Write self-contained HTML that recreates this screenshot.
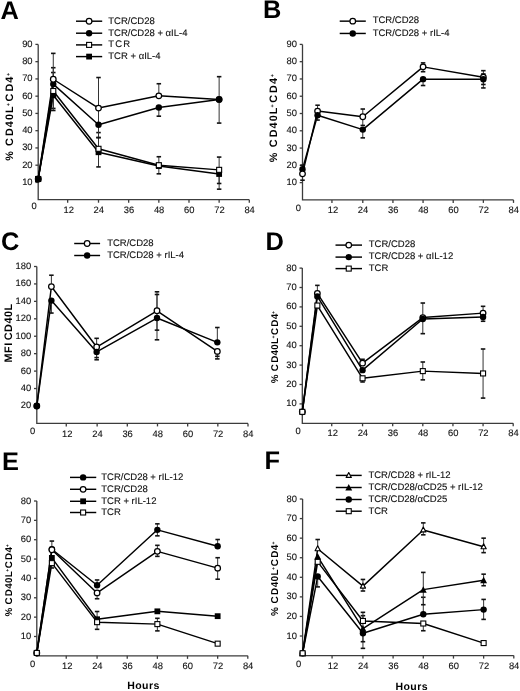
<!DOCTYPE html>
<html><head><meta charset="utf-8"><title>Figure</title>
<style>
html,body{margin:0;padding:0;background:#fff;}
body{width:520px;height:691px;overflow:hidden;}
svg{display:block;will-change:transform;text-rendering:geometricPrecision;font-family:"Liberation Sans", sans-serif;}
</style></head><body>
<svg width="520" height="691" viewBox="0 0 520 691">
<rect width="520" height="691" fill="#fff"/>
<g stroke="#3c3c3c" stroke-width="1.3" fill="none">
<path d="M38.2 44.4V199.7H249.3"/>
<path d="M35.4 182.44H38.2"/>
<path d="M35.4 165.19H38.2"/>
<path d="M35.4 147.93H38.2"/>
<path d="M35.4 130.68H38.2"/>
<path d="M35.4 113.42H38.2"/>
<path d="M35.4 96.17H38.2"/>
<path d="M35.4 78.91H38.2"/>
<path d="M35.4 61.66H38.2"/>
<path d="M35.4 44.4H38.2"/>
<path d="M67.66 199.7V202.7"/>
<path d="M98.51 199.7V202.7"/>
<path d="M128.67 199.7V202.7"/>
<path d="M158.83 199.7V202.7"/>
<path d="M188.99 199.7V202.7"/>
<path d="M219.14 199.7V202.7"/>
<path d="M249.3 199.7V202.7"/>
</g>
<g font-size="9.4" fill="#111" stroke="#111" stroke-width="0.12">
<text x="32.6" y="184.94" text-anchor="end">10</text>
<text x="32.6" y="167.69" text-anchor="end">20</text>
<text x="32.6" y="150.43" text-anchor="end">30</text>
<text x="32.6" y="133.18" text-anchor="end">40</text>
<text x="32.6" y="115.92" text-anchor="end">50</text>
<text x="32.6" y="98.67" text-anchor="end">60</text>
<text x="32.6" y="81.41" text-anchor="end">70</text>
<text x="32.6" y="64.16" text-anchor="end">80</text>
<text x="32.6" y="46.9" text-anchor="end">90</text>
<text x="68.66" y="212.8" text-anchor="middle">12</text>
<text x="98.81" y="212.8" text-anchor="middle">24</text>
<text x="128.97" y="212.8" text-anchor="middle">36</text>
<text x="159.13" y="212.8" text-anchor="middle">48</text>
<text x="189.29" y="212.8" text-anchor="middle">60</text>
<text x="219.44" y="212.8" text-anchor="middle">72</text>
<text x="249.6" y="212.8" text-anchor="middle">84</text>
<text x="34.1" y="209" text-anchor="middle">0</text>
</g>
<g stroke="#000" stroke-width="1.45" fill="none" stroke-linejoin="round">
<path d="M38.2 178.99 L53.28 95.3 L98.51 152.25 L158.83 166.05 L219.14 173.99"/>
<path d="M38.2 178.99 L53.28 90.99 L98.51 148.8 L158.83 165.19 L219.14 169.85"/>
<path d="M38.2 178.99 L53.28 84.09 L98.51 124.81 L158.83 107.56 L219.14 99.45"/>
<path d="M38.2 178.99 L53.28 79.26 L98.51 108.07 L158.83 95.82 L219.14 99.45"/>
</g>
<g stroke="#111" stroke-width="1" fill="none">
<path d="M53.28 95.3V108.42" stroke="#333"/>
<path d="M51.03 108.42H55.53" stroke-width="1.6"/>
<path d="M53.28 95.3V110.49" stroke="#333"/>
<path d="M51.03 110.49H55.53" stroke-width="1.6"/>
<path d="M98.51 152.25V166.91" stroke="#333"/>
<path d="M96.26 166.91H100.76" stroke-width="1.6"/>
<path d="M158.83 166.05V173.82" stroke="#333"/>
<path d="M156.58 173.82H161.08" stroke-width="1.6"/>
<path d="M219.14 173.99V189.17" stroke="#333"/>
<path d="M216.89 189.17H221.39" stroke-width="1.6"/>
<path d="M53.28 90.99V72.53" stroke="#333"/>
<path d="M51.03 72.53H55.53" stroke-width="1.6"/>
<path d="M98.51 148.8V137.58" stroke="#333"/>
<path d="M96.26 137.58H100.76" stroke-width="1.6"/>
<path d="M158.83 165.19V156.73" stroke="#333"/>
<path d="M156.58 156.73H161.08" stroke-width="1.6"/>
<path d="M219.14 169.85V157.08" stroke="#333"/>
<path d="M216.89 157.08H221.39" stroke-width="1.6"/>
<path d="M219.14 169.85V183.48" stroke="#333"/>
<path d="M216.89 183.48H221.39" stroke-width="1.6"/>
<path d="M53.28 84.09V67.7" stroke="#333"/>
<path d="M51.03 67.7H55.53" stroke-width="1.6"/>
<path d="M98.51 124.81V132.58" stroke="#333"/>
<path d="M96.26 132.58H100.76" stroke-width="1.6"/>
<path d="M158.83 107.56V116.18" stroke="#333"/>
<path d="M156.58 116.18H161.08" stroke-width="1.6"/>
<path d="M219.14 99.45V123.09" stroke="#333"/>
<path d="M216.89 123.09H221.39" stroke-width="1.6"/>
<path d="M53.28 79.26V53.37" stroke="#333"/>
<path d="M51.03 53.37H55.53" stroke-width="1.6"/>
<path d="M98.51 108.07V77.53" stroke="#333"/>
<path d="M96.26 77.53H100.76" stroke-width="1.6"/>
<path d="M98.51 108.07V137.58" stroke="#333"/>
<path d="M96.26 137.58H100.76" stroke-width="1.6"/>
<path d="M158.83 95.82V83.74" stroke="#333"/>
<path d="M156.58 83.74H161.08" stroke-width="1.6"/>
<path d="M219.14 99.45V76.67" stroke="#333"/>
<path d="M216.89 76.67H221.39" stroke-width="1.6"/>
</g>
<rect x="50.38" y="92.4" width="5.8" height="5.8" fill="#000"/>
<rect x="95.61" y="149.35" width="5.8" height="5.8" fill="#000"/>
<rect x="155.93" y="163.15" width="5.8" height="5.8" fill="#000"/>
<rect x="216.24" y="171.09" width="5.8" height="5.8" fill="#000"/>
<rect x="35.7" y="176.49" width="5" height="5" fill="#fff" stroke="#000" stroke-width="1.1"/>
<rect x="50.78" y="88.49" width="5" height="5" fill="#fff" stroke="#000" stroke-width="1.1"/>
<rect x="96.01" y="146.3" width="5" height="5" fill="#fff" stroke="#000" stroke-width="1.1"/>
<rect x="156.33" y="162.69" width="5" height="5" fill="#fff" stroke="#000" stroke-width="1.1"/>
<rect x="216.64" y="167.35" width="5" height="5" fill="#fff" stroke="#000" stroke-width="1.1"/>
<circle cx="38.2" cy="178.99" r="3.2" fill="#000"/>
<circle cx="53.28" cy="84.09" r="3.2" fill="#000"/>
<circle cx="98.51" cy="124.81" r="3.2" fill="#000"/>
<circle cx="158.83" cy="107.56" r="3.2" fill="#000"/>
<circle cx="38.2" cy="178.99" r="2.8" fill="#fff" stroke="#000" stroke-width="1.25"/>
<circle cx="53.28" cy="79.26" r="2.8" fill="#fff" stroke="#000" stroke-width="1.25"/>
<circle cx="98.51" cy="108.07" r="2.8" fill="#fff" stroke="#000" stroke-width="1.25"/>
<circle cx="158.83" cy="95.82" r="2.8" fill="#fff" stroke="#000" stroke-width="1.25"/>
<circle cx="219.14" cy="99.45" r="2.8" fill="#fff" stroke="#000" stroke-width="1.25"/>
<circle cx="219.14" cy="99.45" r="3.2" fill="#000"/>
<rect x="35.3" y="176.09" width="5.8" height="5.8" fill="#000"/>
<g font-size="9.5" fill="#111">
<path d="M76 21.2H102.2" stroke="#000" stroke-width="1.45"/>
<circle cx="89.1" cy="21.2" r="2.8" fill="#fff" stroke="#000" stroke-width="1.25"/>
<text x="108.3" y="23.5" stroke="#111" stroke-width="0.12">TCR/CD28</text>
<path d="M76 33.2H102.2" stroke="#000" stroke-width="1.45"/>
<circle cx="89.1" cy="33.2" r="3.2" fill="#000"/>
<text x="108.3" y="35.5" stroke="#111" stroke-width="0.12">TCR/CD28 + &#945;IL-4</text>
<path d="M76 44.9H102.2" stroke="#000" stroke-width="1.45"/>
<rect x="86.6" y="42.4" width="5" height="5" fill="#fff" stroke="#000" stroke-width="1.1"/>
<text x="108.3" y="47.2" stroke="#111" stroke-width="0.12"><tspan letter-spacing="1.2">TCR</tspan></text>
<path d="M76 56.6H102.2" stroke="#000" stroke-width="1.45"/>
<rect x="86.2" y="53.7" width="5.8" height="5.8" fill="#000"/>
<text x="108.3" y="58.9" stroke="#111" stroke-width="0.12">TCR + &#945;IL-4</text>
</g>
<g stroke="#3c3c3c" stroke-width="1.3" fill="none">
<path d="M302.5 44.4V199.9H513.5"/>
<path d="M299.7 182.62H302.5"/>
<path d="M299.7 165.34H302.5"/>
<path d="M299.7 148.07H302.5"/>
<path d="M299.7 130.79H302.5"/>
<path d="M299.7 113.51H302.5"/>
<path d="M299.7 96.23H302.5"/>
<path d="M299.7 78.96H302.5"/>
<path d="M299.7 61.68H302.5"/>
<path d="M299.7 44.4H302.5"/>
<path d="M331.94 199.9V202.9"/>
<path d="M362.79 199.9V202.9"/>
<path d="M392.93 199.9V202.9"/>
<path d="M423.07 199.9V202.9"/>
<path d="M453.21 199.9V202.9"/>
<path d="M483.36 199.9V202.9"/>
<path d="M513.5 199.9V202.9"/>
</g>
<g font-size="9.4" fill="#111" stroke="#111" stroke-width="0.12">
<text x="296.9" y="185.12" text-anchor="end">10</text>
<text x="296.9" y="167.84" text-anchor="end">20</text>
<text x="296.9" y="150.57" text-anchor="end">30</text>
<text x="296.9" y="133.29" text-anchor="end">40</text>
<text x="296.9" y="116.01" text-anchor="end">50</text>
<text x="296.9" y="98.73" text-anchor="end">60</text>
<text x="296.9" y="81.46" text-anchor="end">70</text>
<text x="296.9" y="64.18" text-anchor="end">80</text>
<text x="296.9" y="46.9" text-anchor="end">90</text>
<text x="332.94" y="213" text-anchor="middle">12</text>
<text x="363.09" y="213" text-anchor="middle">24</text>
<text x="393.23" y="213" text-anchor="middle">36</text>
<text x="423.37" y="213" text-anchor="middle">48</text>
<text x="453.51" y="213" text-anchor="middle">60</text>
<text x="483.66" y="213" text-anchor="middle">72</text>
<text x="513.8" y="213" text-anchor="middle">84</text>
<text x="298.4" y="211" text-anchor="middle">0</text>
</g>
<g stroke="#000" stroke-width="1.45" fill="none" stroke-linejoin="round">
<path d="M302.5 173.81 L317.57 111.09 L362.79 116.79 L423.07 66.86 L483.36 77.23"/>
<path d="M302.5 169.15 L317.57 115.24 L362.79 129.58 L423.07 79.13 L483.36 79.3"/>
</g>
<g stroke="#111" stroke-width="1" fill="none">
<path d="M302.5 173.81V180.2" stroke="#333"/>
<path d="M300.25 180.2H304.75" stroke-width="1.6"/>
<path d="M317.57 111.09V105.22" stroke="#333"/>
<path d="M315.32 105.22H319.82" stroke-width="1.6"/>
<path d="M362.79 116.79V109.02" stroke="#333"/>
<path d="M360.54 109.02H365.04" stroke-width="1.6"/>
<path d="M362.79 116.79V125.43" stroke="#333"/>
<path d="M360.54 125.43H365.04" stroke-width="1.6"/>
<path d="M423.07 66.86V62.89" stroke="#333"/>
<path d="M420.82 62.89H425.32" stroke-width="1.6"/>
<path d="M423.07 66.86V71.7" stroke="#333"/>
<path d="M420.82 71.7H425.32" stroke-width="1.6"/>
<path d="M483.36 77.23V70.66" stroke="#333"/>
<path d="M481.11 70.66H485.61" stroke-width="1.6"/>
<path d="M483.36 77.23V73.94" stroke="#333"/>
<path d="M481.11 73.94H485.61" stroke-width="1.6"/>
<path d="M302.5 169.15V165.17" stroke="#333"/>
<path d="M300.25 165.17H304.75" stroke-width="1.6"/>
<path d="M317.57 115.24V120.08" stroke="#333"/>
<path d="M315.32 120.08H319.82" stroke-width="1.6"/>
<path d="M362.79 129.58V137.87" stroke="#333"/>
<path d="M360.54 137.87H365.04" stroke-width="1.6"/>
<path d="M423.07 79.13V85.52" stroke="#333"/>
<path d="M420.82 85.52H425.32" stroke-width="1.6"/>
<path d="M483.36 79.3V87.94" stroke="#333"/>
<path d="M481.11 87.94H485.61" stroke-width="1.6"/>
<path d="M483.36 79.3V84.48" stroke="#333"/>
<path d="M481.11 84.48H485.61" stroke-width="1.6"/>
</g>
<circle cx="317.57" cy="111.09" r="2.8" fill="#fff" stroke="#000" stroke-width="1.25"/>
<circle cx="362.79" cy="116.79" r="2.8" fill="#fff" stroke="#000" stroke-width="1.25"/>
<circle cx="423.07" cy="66.86" r="2.8" fill="#fff" stroke="#000" stroke-width="1.25"/>
<circle cx="483.36" cy="77.23" r="2.8" fill="#fff" stroke="#000" stroke-width="1.25"/>
<circle cx="302.5" cy="169.15" r="3.2" fill="#000"/>
<circle cx="317.57" cy="115.24" r="3.2" fill="#000"/>
<circle cx="362.79" cy="129.58" r="3.2" fill="#000"/>
<circle cx="423.07" cy="79.13" r="3.2" fill="#000"/>
<circle cx="483.36" cy="79.3" r="3.2" fill="#000"/>
<circle cx="302.5" cy="173.81" r="2.8" fill="#fff" stroke="#000" stroke-width="1.25"/>
<g font-size="9.5" fill="#111">
<path d="M339.7 21.15H365.8" stroke="#000" stroke-width="1.45"/>
<circle cx="352.75" cy="21.15" r="2.8" fill="#fff" stroke="#000" stroke-width="1.25"/>
<text x="372.7" y="23.45" stroke="#111" stroke-width="0.12">TCR/CD28</text>
<path d="M339.7 33.45H365.8" stroke="#000" stroke-width="1.45"/>
<circle cx="352.75" cy="33.45" r="3.2" fill="#000"/>
<text x="372.7" y="35.75" stroke="#111" stroke-width="0.12">TCR/CD28 + rIL-4</text>
</g>
<g stroke="#3c3c3c" stroke-width="1.3" fill="none">
<path d="M36.8 266.5V423.4H248"/>
<path d="M34 405.97H36.8"/>
<path d="M34 388.53H36.8"/>
<path d="M34 371.1H36.8"/>
<path d="M34 353.67H36.8"/>
<path d="M34 336.23H36.8"/>
<path d="M34 318.8H36.8"/>
<path d="M34 301.37H36.8"/>
<path d="M34 283.93H36.8"/>
<path d="M34 266.5H36.8"/>
<path d="M66.27 423.4V426.4"/>
<path d="M97.14 423.4V426.4"/>
<path d="M127.31 423.4V426.4"/>
<path d="M157.49 423.4V426.4"/>
<path d="M187.66 423.4V426.4"/>
<path d="M217.83 423.4V426.4"/>
<path d="M248 423.4V426.4"/>
</g>
<g font-size="9.4" fill="#111" stroke="#111" stroke-width="0.12">
<text x="31.2" y="408.47" text-anchor="end">20</text>
<text x="31.2" y="391.03" text-anchor="end">40</text>
<text x="31.2" y="373.6" text-anchor="end">60</text>
<text x="31.2" y="356.17" text-anchor="end">80</text>
<text x="31.2" y="338.73" text-anchor="end">100</text>
<text x="31.2" y="321.3" text-anchor="end">120</text>
<text x="31.2" y="303.87" text-anchor="end">140</text>
<text x="31.2" y="286.43" text-anchor="end">160</text>
<text x="31.2" y="269" text-anchor="end">180</text>
<text x="67.27" y="436.5" text-anchor="middle">12</text>
<text x="97.44" y="436.5" text-anchor="middle">24</text>
<text x="127.61" y="436.5" text-anchor="middle">36</text>
<text x="157.79" y="436.5" text-anchor="middle">48</text>
<text x="187.96" y="436.5" text-anchor="middle">60</text>
<text x="218.13" y="436.5" text-anchor="middle">72</text>
<text x="248.3" y="436.5" text-anchor="middle">84</text>
<text x="32.7" y="434.2" text-anchor="middle">0</text>
</g>
<g stroke="#000" stroke-width="1.45" fill="none" stroke-linejoin="round">
<path d="M36.8 405.97 L51.39 286.55 L96.64 347.04 L156.99 310.78 L217.33 351.4"/>
<path d="M36.8 405.97 L51.39 300.58 L96.64 351.92 L156.99 318.02 L217.33 342.33"/>
</g>
<g stroke="#111" stroke-width="1" fill="none">
<path d="M51.39 286.55V275.22" stroke="#333"/>
<path d="M49.14 275.22H53.64" stroke-width="1.6"/>
<path d="M96.64 347.04V338.33" stroke="#333"/>
<path d="M94.39 338.33H98.89" stroke-width="1.6"/>
<path d="M156.99 310.78V291.78" stroke="#333"/>
<path d="M154.74 291.78H159.24" stroke-width="1.6"/>
<path d="M217.33 351.4V358.9" stroke="#333"/>
<path d="M215.08 358.9H219.58" stroke-width="1.6"/>
<path d="M217.33 351.4V356.28" stroke="#333"/>
<path d="M215.08 356.28H219.58" stroke-width="1.6"/>
<path d="M51.39 300.58V313.05" stroke="#333"/>
<path d="M49.14 313.05H53.64" stroke-width="1.6"/>
<path d="M96.64 351.92V359.77" stroke="#333"/>
<path d="M94.39 359.77H98.89" stroke-width="1.6"/>
<path d="M96.64 351.92V357.59" stroke="#333"/>
<path d="M94.39 357.59H98.89" stroke-width="1.6"/>
<path d="M156.99 318.02V339.81" stroke="#333"/>
<path d="M154.74 339.81H159.24" stroke-width="1.6"/>
<path d="M156.99 318.02V330.13" stroke="#333"/>
<path d="M154.74 330.13H159.24" stroke-width="1.6"/>
<path d="M156.99 318.02V294.48" stroke="#333"/>
<path d="M154.74 294.48H159.24" stroke-width="1.6"/>
<path d="M217.33 342.33V327.52" stroke="#333"/>
<path d="M215.08 327.52H219.58" stroke-width="1.6"/>
</g>
<circle cx="36.8" cy="405.97" r="2.8" fill="#fff" stroke="#000" stroke-width="1.25"/>
<circle cx="51.39" cy="286.55" r="2.8" fill="#fff" stroke="#000" stroke-width="1.25"/>
<circle cx="96.64" cy="347.04" r="2.8" fill="#fff" stroke="#000" stroke-width="1.25"/>
<circle cx="156.99" cy="310.78" r="2.8" fill="#fff" stroke="#000" stroke-width="1.25"/>
<circle cx="217.33" cy="351.4" r="2.8" fill="#fff" stroke="#000" stroke-width="1.25"/>
<circle cx="36.8" cy="405.97" r="3.2" fill="#000"/>
<circle cx="51.39" cy="300.58" r="3.2" fill="#000"/>
<circle cx="96.64" cy="351.92" r="3.2" fill="#000"/>
<circle cx="156.99" cy="318.02" r="3.2" fill="#000"/>
<circle cx="217.33" cy="342.33" r="3.2" fill="#000"/>
<g font-size="9.5" fill="#111">
<path d="M74.2 243.5H100.1" stroke="#000" stroke-width="1.45"/>
<circle cx="87.15" cy="243.5" r="2.8" fill="#fff" stroke="#000" stroke-width="1.25"/>
<text x="107.2" y="245.8" stroke="#111" stroke-width="0.12">TCR/CD28</text>
<path d="M74.2 255.5H100.1" stroke="#000" stroke-width="1.45"/>
<circle cx="87.15" cy="255.5" r="3.2" fill="#000"/>
<text x="107.2" y="257.8" stroke="#111" stroke-width="0.12">TCR/CD28 + rIL-4</text>
</g>
<g stroke="#3c3c3c" stroke-width="1.3" fill="none">
<path d="M302.3 268.1V423.3H513.2"/>
<path d="M299.5 403.9H302.3"/>
<path d="M299.5 384.5H302.3"/>
<path d="M299.5 365.1H302.3"/>
<path d="M299.5 345.7H302.3"/>
<path d="M299.5 326.3H302.3"/>
<path d="M299.5 306.9H302.3"/>
<path d="M299.5 287.5H302.3"/>
<path d="M299.5 268.1H302.3"/>
<path d="M331.73 423.3V426.3"/>
<path d="M362.56 423.3V426.3"/>
<path d="M392.69 423.3V426.3"/>
<path d="M422.81 423.3V426.3"/>
<path d="M452.94 423.3V426.3"/>
<path d="M483.07 423.3V426.3"/>
<path d="M513.2 423.3V426.3"/>
</g>
<g font-size="9.4" fill="#111" stroke="#111" stroke-width="0.12">
<text x="296.7" y="406.4" text-anchor="end">10</text>
<text x="296.7" y="387" text-anchor="end">20</text>
<text x="296.7" y="367.6" text-anchor="end">30</text>
<text x="296.7" y="348.2" text-anchor="end">40</text>
<text x="296.7" y="328.8" text-anchor="end">50</text>
<text x="296.7" y="309.4" text-anchor="end">60</text>
<text x="296.7" y="290" text-anchor="end">70</text>
<text x="296.7" y="270.6" text-anchor="end">80</text>
<text x="332.73" y="436.4" text-anchor="middle">12</text>
<text x="362.86" y="436.4" text-anchor="middle">24</text>
<text x="392.99" y="436.4" text-anchor="middle">36</text>
<text x="423.11" y="436.4" text-anchor="middle">48</text>
<text x="453.24" y="436.4" text-anchor="middle">60</text>
<text x="483.37" y="436.4" text-anchor="middle">72</text>
<text x="513.5" y="436.4" text-anchor="middle">84</text>
<text x="298.2" y="433.7" text-anchor="middle">0</text>
</g>
<g stroke="#000" stroke-width="1.45" fill="none" stroke-linejoin="round">
<path d="M302.3 411.85 L317.36 305.54 L362.56 378.29 L422.81 371.11 L483.07 373.44"/>
<path d="M302.3 411.85 L317.36 296.42 L362.56 370.14 L422.81 318.93 L483.07 316.99"/>
<path d="M302.3 411.85 L317.36 293.32 L362.56 363.16 L422.81 317.57 L483.07 313.11"/>
</g>
<g stroke="#111" stroke-width="1" fill="none">
<path d="M362.56 378.29V381.98" stroke="#333"/>
<path d="M360.31 381.98H364.81" stroke-width="1.6"/>
<path d="M422.81 371.11V362" stroke="#333"/>
<path d="M420.56 362H425.06" stroke-width="1.6"/>
<path d="M422.81 371.11V379.84" stroke="#333"/>
<path d="M420.56 379.84H425.06" stroke-width="1.6"/>
<path d="M483.07 373.44V349" stroke="#333"/>
<path d="M480.82 349H485.32" stroke-width="1.6"/>
<path d="M483.07 373.44V398.08" stroke="#333"/>
<path d="M480.82 398.08H485.32" stroke-width="1.6"/>
<path d="M422.81 318.93V333.67" stroke="#333"/>
<path d="M420.56 333.67H425.06" stroke-width="1.6"/>
<path d="M483.07 316.99V321.26" stroke="#333"/>
<path d="M480.82 321.26H485.32" stroke-width="1.6"/>
<path d="M317.36 293.32V285.37" stroke="#333"/>
<path d="M315.11 285.37H319.61" stroke-width="1.6"/>
<path d="M362.56 363.16V359.28" stroke="#333"/>
<path d="M360.31 359.28H364.81" stroke-width="1.6"/>
<path d="M422.81 317.57V303.02" stroke="#333"/>
<path d="M420.56 303.02H425.06" stroke-width="1.6"/>
<path d="M483.07 313.11V306.32" stroke="#333"/>
<path d="M480.82 306.32H485.32" stroke-width="1.6"/>
</g>
<rect x="314.86" y="303.04" width="5" height="5" fill="#fff" stroke="#000" stroke-width="1.1"/>
<rect x="420.31" y="368.61" width="5" height="5" fill="#fff" stroke="#000" stroke-width="1.1"/>
<rect x="480.57" y="370.94" width="5" height="5" fill="#fff" stroke="#000" stroke-width="1.1"/>
<circle cx="302.3" cy="411.85" r="3.2" fill="#000"/>
<circle cx="302.3" cy="411.85" r="2.8" fill="#fff" stroke="#000" stroke-width="1.25"/>
<circle cx="317.36" cy="293.32" r="2.8" fill="#fff" stroke="#000" stroke-width="1.25"/>
<circle cx="362.56" cy="363.16" r="2.8" fill="#fff" stroke="#000" stroke-width="1.25"/>
<circle cx="422.81" cy="317.57" r="2.8" fill="#fff" stroke="#000" stroke-width="1.25"/>
<circle cx="483.07" cy="313.11" r="2.8" fill="#fff" stroke="#000" stroke-width="1.25"/>
<circle cx="317.36" cy="296.42" r="3.2" fill="#000"/>
<circle cx="362.56" cy="370.14" r="3.2" fill="#000"/>
<rect x="360.06" y="375.79" width="5" height="5" fill="#fff" stroke="#000" stroke-width="1.1"/>
<circle cx="422.81" cy="318.93" r="3.2" fill="#000"/>
<circle cx="483.07" cy="316.99" r="3.2" fill="#000"/>
<rect x="299.8" y="409.35" width="5" height="5" fill="#fff" stroke="#000" stroke-width="1.1"/>
<g font-size="9.5" fill="#111">
<path d="M335.5 245.1H362" stroke="#000" stroke-width="1.45"/>
<circle cx="348.75" cy="245.1" r="2.8" fill="#fff" stroke="#000" stroke-width="1.25"/>
<text x="368.75" y="247.4" stroke="#111" stroke-width="0.12">TCR/CD28</text>
<path d="M335.5 257.1H362" stroke="#000" stroke-width="1.45"/>
<circle cx="348.75" cy="257.1" r="3.2" fill="#000"/>
<text x="368.75" y="259.4" stroke="#111" stroke-width="0.12">TCR/CD28 + &#945;IL-12</text>
<path d="M335.5 268.6H362" stroke="#000" stroke-width="1.45"/>
<rect x="346.25" y="266.1" width="5" height="5" fill="#fff" stroke="#000" stroke-width="1.1"/>
<text x="368.75" y="270.9" stroke="#111" stroke-width="0.12">TCR</text>
</g>
<g stroke="#3c3c3c" stroke-width="1.3" fill="none">
<path d="M36.8 501V655.85H247.8"/>
<path d="M34 636.49H36.8"/>
<path d="M34 617.14H36.8"/>
<path d="M34 597.78H36.8"/>
<path d="M34 578.42H36.8"/>
<path d="M34 559.07H36.8"/>
<path d="M34 539.71H36.8"/>
<path d="M34 520.36H36.8"/>
<path d="M34 501H36.8"/>
<path d="M66.24 655.85V658.85"/>
<path d="M97.09 655.85V658.85"/>
<path d="M127.23 655.85V658.85"/>
<path d="M157.37 655.85V658.85"/>
<path d="M187.51 655.85V658.85"/>
<path d="M217.66 655.85V658.85"/>
<path d="M247.8 655.85V658.85"/>
</g>
<g font-size="9.4" fill="#111" stroke="#111" stroke-width="0.12">
<text x="31.2" y="638.99" text-anchor="end">10</text>
<text x="31.2" y="619.64" text-anchor="end">20</text>
<text x="31.2" y="600.28" text-anchor="end">30</text>
<text x="31.2" y="580.92" text-anchor="end">40</text>
<text x="31.2" y="561.57" text-anchor="end">50</text>
<text x="31.2" y="542.21" text-anchor="end">60</text>
<text x="31.2" y="522.86" text-anchor="end">70</text>
<text x="31.2" y="503.5" text-anchor="end">80</text>
<text x="67.24" y="668.95" text-anchor="middle">12</text>
<text x="97.39" y="668.95" text-anchor="middle">24</text>
<text x="127.53" y="668.95" text-anchor="middle">36</text>
<text x="157.67" y="668.95" text-anchor="middle">48</text>
<text x="187.81" y="668.95" text-anchor="middle">60</text>
<text x="217.96" y="668.95" text-anchor="middle">72</text>
<text x="248.1" y="668.95" text-anchor="middle">84</text>
<text x="32.7" y="667.45" text-anchor="middle">0</text>
</g>
<g stroke="#000" stroke-width="1.45" fill="none" stroke-linejoin="round">
<path d="M36.8 652.95 L51.87 557.91 L97.09 619.27 L157.37 611.33 L217.66 616.17"/>
<path d="M36.8 652.95 L51.87 549.2 L97.09 585.2 L157.37 529.84 L217.66 546.29"/>
<path d="M36.8 652.95 L51.87 549.78 L97.09 592.94 L157.37 551.33 L217.66 568.17"/>
<path d="M36.8 652.95 L51.87 563.13 L97.09 622.17 L157.37 624.11 L217.66 643.66"/>
</g>
<g stroke="#111" stroke-width="1" fill="none">
<path d="M97.09 619.27V611.52" stroke="#333"/>
<path d="M94.84 611.52H99.34" stroke-width="1.6"/>
<path d="M51.87 549.2V541.07" stroke="#333"/>
<path d="M49.62 541.07H54.12" stroke-width="1.6"/>
<path d="M97.09 585.2V579.97" stroke="#333"/>
<path d="M94.84 579.97H99.34" stroke-width="1.6"/>
<path d="M157.37 529.84V523.84" stroke="#333"/>
<path d="M155.12 523.84H159.62" stroke-width="1.6"/>
<path d="M157.37 529.84V535.84" stroke="#333"/>
<path d="M155.12 535.84H159.62" stroke-width="1.6"/>
<path d="M217.66 546.29V539.52" stroke="#333"/>
<path d="M215.41 539.52H219.91" stroke-width="1.6"/>
<path d="M97.09 592.94V598.75" stroke="#333"/>
<path d="M94.84 598.75H99.34" stroke-width="1.6"/>
<path d="M157.37 551.33V545.33" stroke="#333"/>
<path d="M155.12 545.33H159.62" stroke-width="1.6"/>
<path d="M157.37 551.33V556.36" stroke="#333"/>
<path d="M155.12 556.36H159.62" stroke-width="1.6"/>
<path d="M217.66 568.17V557.71" stroke="#333"/>
<path d="M215.41 557.71H219.91" stroke-width="1.6"/>
<path d="M217.66 568.17V579.2" stroke="#333"/>
<path d="M215.41 579.2H219.91" stroke-width="1.6"/>
<path d="M51.87 563.13V567.97" stroke="#333"/>
<path d="M49.62 567.97H54.12" stroke-width="1.6"/>
<path d="M97.09 622.17V629.33" stroke="#333"/>
<path d="M94.84 629.33H99.34" stroke-width="1.6"/>
<path d="M157.37 624.11V618.3" stroke="#333"/>
<path d="M155.12 618.3H159.62" stroke-width="1.6"/>
<path d="M157.37 624.11V630.88" stroke="#333"/>
<path d="M155.12 630.88H159.62" stroke-width="1.6"/>
</g>
<rect x="33.9" y="650.05" width="5.8" height="5.8" fill="#000"/>
<rect x="48.97" y="555.01" width="5.8" height="5.8" fill="#000"/>
<rect x="94.19" y="616.37" width="5.8" height="5.8" fill="#000"/>
<rect x="154.47" y="608.43" width="5.8" height="5.8" fill="#000"/>
<rect x="214.76" y="613.27" width="5.8" height="5.8" fill="#000"/>
<circle cx="36.8" cy="652.95" r="3.2" fill="#000"/>
<circle cx="51.87" cy="549.2" r="3.2" fill="#000"/>
<circle cx="97.09" cy="585.2" r="3.2" fill="#000"/>
<circle cx="157.37" cy="529.84" r="3.2" fill="#000"/>
<circle cx="217.66" cy="546.29" r="3.2" fill="#000"/>
<circle cx="36.8" cy="652.95" r="2.8" fill="#fff" stroke="#000" stroke-width="1.25"/>
<circle cx="51.87" cy="549.78" r="2.8" fill="#fff" stroke="#000" stroke-width="1.25"/>
<circle cx="97.09" cy="592.94" r="2.8" fill="#fff" stroke="#000" stroke-width="1.25"/>
<circle cx="157.37" cy="551.33" r="2.8" fill="#fff" stroke="#000" stroke-width="1.25"/>
<circle cx="217.66" cy="568.17" r="2.8" fill="#fff" stroke="#000" stroke-width="1.25"/>
<rect x="34.3" y="650.45" width="5" height="5" fill="#fff" stroke="#000" stroke-width="1.1"/>
<rect x="49.37" y="560.63" width="5" height="5" fill="#fff" stroke="#000" stroke-width="1.1"/>
<rect x="94.59" y="619.67" width="5" height="5" fill="#fff" stroke="#000" stroke-width="1.1"/>
<rect x="154.87" y="621.61" width="5" height="5" fill="#fff" stroke="#000" stroke-width="1.1"/>
<rect x="215.16" y="641.16" width="5" height="5" fill="#fff" stroke="#000" stroke-width="1.1"/>
<g font-size="9.5" fill="#111">
<path d="M70 477.4H96.25" stroke="#000" stroke-width="1.45"/>
<circle cx="83.12" cy="477.4" r="3.2" fill="#000"/>
<text x="101.25" y="479.7" stroke="#111" stroke-width="0.12">TCR/CD28 + rIL-12</text>
<path d="M70 489.3H96.25" stroke="#000" stroke-width="1.45"/>
<circle cx="83.12" cy="489.3" r="2.8" fill="#fff" stroke="#000" stroke-width="1.25"/>
<text x="101.25" y="491.6" stroke="#111" stroke-width="0.12">TCR/CD28</text>
<path d="M70 501.3H96.25" stroke="#000" stroke-width="1.45"/>
<rect x="80.22" y="498.4" width="5.8" height="5.8" fill="#000"/>
<text x="101.25" y="503.6" stroke="#111" stroke-width="0.12">TCR + rIL-12</text>
<path d="M70 512.5H96.25" stroke="#000" stroke-width="1.45"/>
<rect x="80.62" y="510" width="5" height="5" fill="#fff" stroke="#000" stroke-width="1.1"/>
<text x="101.25" y="514.8" stroke="#111" stroke-width="0.12">TCR</text>
</g>
<g stroke="#3c3c3c" stroke-width="1.3" fill="none">
<path d="M302.6 499V655.6H513.8"/>
<path d="M299.8 636.02H302.6"/>
<path d="M299.8 616.45H302.6"/>
<path d="M299.8 596.88H302.6"/>
<path d="M299.8 577.3H302.6"/>
<path d="M299.8 557.73H302.6"/>
<path d="M299.8 538.15H302.6"/>
<path d="M299.8 518.58H302.6"/>
<path d="M299.8 499H302.6"/>
<path d="M332.07 655.6V658.6"/>
<path d="M362.94 655.6V658.6"/>
<path d="M393.11 655.6V658.6"/>
<path d="M423.29 655.6V658.6"/>
<path d="M453.46 655.6V658.6"/>
<path d="M483.63 655.6V658.6"/>
<path d="M513.8 655.6V658.6"/>
</g>
<g font-size="9.4" fill="#111" stroke="#111" stroke-width="0.12">
<text x="297" y="638.52" text-anchor="end">10</text>
<text x="297" y="618.95" text-anchor="end">20</text>
<text x="297" y="599.38" text-anchor="end">30</text>
<text x="297" y="579.8" text-anchor="end">40</text>
<text x="297" y="560.23" text-anchor="end">50</text>
<text x="297" y="540.65" text-anchor="end">60</text>
<text x="297" y="521.08" text-anchor="end">70</text>
<text x="297" y="501.5" text-anchor="end">80</text>
<text x="333.07" y="668.7" text-anchor="middle">12</text>
<text x="363.24" y="668.7" text-anchor="middle">24</text>
<text x="393.41" y="668.7" text-anchor="middle">36</text>
<text x="423.59" y="668.7" text-anchor="middle">48</text>
<text x="453.76" y="668.7" text-anchor="middle">60</text>
<text x="483.93" y="668.7" text-anchor="middle">72</text>
<text x="514.1" y="668.7" text-anchor="middle">84</text>
<text x="298.5" y="667.4" text-anchor="middle">0</text>
</g>
<g stroke="#000" stroke-width="1.45" fill="none" stroke-linejoin="round">
<path d="M302.6 653.25 L317.69 576.52 L362.94 633.28 L423.29 614.3 L483.63 609.6"/>
<path d="M302.6 653.25 L317.69 556.55 L362.94 628.59 L423.29 589.63 L483.63 580.24"/>
<path d="M302.6 653.25 L317.69 561.84 L362.94 620.95 L423.29 623.5 L483.63 643.07"/>
<path d="M302.6 653.25 L317.69 548.72 L362.94 586.11 L423.29 529.93 L483.63 546.76"/>
</g>
<g stroke="#111" stroke-width="1" fill="none">
<path d="M317.69 576.52V586.89" stroke="#333"/>
<path d="M315.44 586.89H319.94" stroke-width="1.6"/>
<path d="M362.94 633.28V648.36" stroke="#333"/>
<path d="M360.69 648.36H365.19" stroke-width="1.6"/>
<path d="M362.94 633.28V615.67" stroke="#333"/>
<path d="M360.69 615.67H365.19" stroke-width="1.6"/>
<path d="M423.29 614.3V597.27" stroke="#333"/>
<path d="M421.04 597.27H425.54" stroke-width="1.6"/>
<path d="M483.63 609.6V599.42" stroke="#333"/>
<path d="M481.38 599.42H485.88" stroke-width="1.6"/>
<path d="M483.63 609.6V619.39" stroke="#333"/>
<path d="M481.38 619.39H485.88" stroke-width="1.6"/>
<path d="M362.94 628.59V641.7" stroke="#333"/>
<path d="M360.69 641.7H365.19" stroke-width="1.6"/>
<path d="M423.29 589.63V572.41" stroke="#333"/>
<path d="M421.04 572.41H425.54" stroke-width="1.6"/>
<path d="M423.29 589.63V604.71" stroke="#333"/>
<path d="M421.04 604.71H425.54" stroke-width="1.6"/>
<path d="M483.63 580.24V574.17" stroke="#333"/>
<path d="M481.38 574.17H485.88" stroke-width="1.6"/>
<path d="M483.63 580.24V585.72" stroke="#333"/>
<path d="M481.38 585.72H485.88" stroke-width="1.6"/>
<path d="M362.94 620.95V612.34" stroke="#333"/>
<path d="M360.69 612.34H365.19" stroke-width="1.6"/>
<path d="M423.29 623.5V630.74" stroke="#333"/>
<path d="M421.04 630.74H425.54" stroke-width="1.6"/>
<path d="M317.69 548.72V539.52" stroke="#333"/>
<path d="M315.44 539.52H319.94" stroke-width="1.6"/>
<path d="M362.94 586.11V579.45" stroke="#333"/>
<path d="M360.69 579.45H365.19" stroke-width="1.6"/>
<path d="M362.94 586.11V591" stroke="#333"/>
<path d="M360.69 591H365.19" stroke-width="1.6"/>
<path d="M423.29 529.93V522.88" stroke="#333"/>
<path d="M421.04 522.88H425.54" stroke-width="1.6"/>
<path d="M423.29 529.93V534.82" stroke="#333"/>
<path d="M421.04 534.82H425.54" stroke-width="1.6"/>
<path d="M483.63 546.76V538.15" stroke="#333"/>
<path d="M481.38 538.15H485.88" stroke-width="1.6"/>
<path d="M483.63 546.76V552.64" stroke="#333"/>
<path d="M481.38 552.64H485.88" stroke-width="1.6"/>
</g>
<circle cx="302.6" cy="653.25" r="3.2" fill="#000"/>
<circle cx="317.69" cy="576.52" r="3.2" fill="#000"/>
<circle cx="362.94" cy="633.28" r="3.2" fill="#000"/>
<circle cx="423.29" cy="614.3" r="3.2" fill="#000"/>
<circle cx="483.63" cy="609.6" r="3.2" fill="#000"/>
<polygon points="302.6,649.75 299.15,656.25 306.05,656.25" fill="#000"/>
<polygon points="317.69,553.05 314.24,559.55 321.14,559.55" fill="#000"/>
<polygon points="362.94,625.09 359.49,631.59 366.39,631.59" fill="#000"/>
<polygon points="423.29,586.13 419.84,592.63 426.74,592.63" fill="#000"/>
<polygon points="483.63,576.74 480.18,583.24 487.08,583.24" fill="#000"/>
<rect x="315.19" y="559.34" width="5" height="5" fill="#fff" stroke="#000" stroke-width="1.1"/>
<rect x="360.44" y="618.45" width="5" height="5" fill="#fff" stroke="#000" stroke-width="1.1"/>
<rect x="420.79" y="621" width="5" height="5" fill="#fff" stroke="#000" stroke-width="1.1"/>
<rect x="481.13" y="640.57" width="5" height="5" fill="#fff" stroke="#000" stroke-width="1.1"/>
<polygon points="302.6,650.35 300,655.25 305.2,655.25" fill="#fff" stroke="#000" stroke-width="1.15" stroke-linejoin="round"/>
<polygon points="317.69,545.82 315.09,550.72 320.29,550.72" fill="#fff" stroke="#000" stroke-width="1.15" stroke-linejoin="round"/>
<polygon points="362.94,583.21 360.34,588.11 365.54,588.11" fill="#fff" stroke="#000" stroke-width="1.15" stroke-linejoin="round"/>
<polygon points="423.29,527.03 420.69,531.93 425.89,531.93" fill="#fff" stroke="#000" stroke-width="1.15" stroke-linejoin="round"/>
<polygon points="483.63,543.86 481.03,548.76 486.23,548.76" fill="#fff" stroke="#000" stroke-width="1.15" stroke-linejoin="round"/>
<rect x="300.1" y="650.75" width="5" height="5" fill="#fff" stroke="#000" stroke-width="1.1"/>
<g font-size="9.5" fill="#111">
<path d="M335.8 475.4H361.7" stroke="#000" stroke-width="1.45"/>
<polygon points="348.75,472.5 346.15,477.4 351.35,477.4" fill="#fff" stroke="#000" stroke-width="1.15" stroke-linejoin="round"/>
<text x="368.4" y="477.7" stroke="#111" stroke-width="0.12">TCR/CD28 + rIL-12</text>
<path d="M335.8 487.5H361.7" stroke="#000" stroke-width="1.45"/>
<polygon points="348.75,484 345.3,490.5 352.2,490.5" fill="#000"/>
<text x="368.4" y="489.8" stroke="#111" stroke-width="0.12">TCR/CD28/&#945;CD25 + rIL-12</text>
<path d="M335.8 499.5H361.7" stroke="#000" stroke-width="1.45"/>
<circle cx="348.75" cy="499.5" r="3.2" fill="#000"/>
<text x="368.4" y="501.8" stroke="#111" stroke-width="0.12">TCR/CD28/&#945;CD25</text>
<path d="M335.8 511.2H361.7" stroke="#000" stroke-width="1.45"/>
<rect x="346.25" y="508.7" width="5" height="5" fill="#fff" stroke="#000" stroke-width="1.1"/>
<text x="368.4" y="513.5" stroke="#111" stroke-width="0.12">TCR</text>
</g>
<text x="0.5" y="18.6" font-size="25.4" font-weight="bold" fill="#000">A</text>
<text x="263" y="18.4" font-size="25.4" font-weight="bold" fill="#000">B</text>
<text x="1" y="250" font-size="25.4" font-weight="bold" fill="#000">C</text>
<text x="265.5" y="250.4" font-size="25.4" font-weight="bold" fill="#000">D</text>
<text x="2" y="469.6" font-size="25.4" font-weight="bold" fill="#000">E</text>
<text x="264.5" y="469.4" font-size="25.4" font-weight="bold" fill="#000">F</text>
<text transform="translate(13 116.3) rotate(-90)" text-anchor="middle" font-size="10.8" font-weight="bold" letter-spacing="1.1" fill="#000">% C<tspan dx="1.08">D</tspan>40L<tspan font-size="5.4" dx="-0.97" dy="-3.24">+</tspan><tspan dx="0.43" dy="3.24">C<tspan dx="1.08">D</tspan>4</tspan><tspan font-size="5.4" dx="-0.43" dy="-3.24">+</tspan></text>
<text transform="translate(277.4 117.6) rotate(-90)" text-anchor="middle" font-size="10.8" font-weight="bold" letter-spacing="1.1" fill="#000">% C<tspan dx="1.08">D</tspan>40L<tspan font-size="5.4" dx="-0.97" dy="-3.24">+</tspan><tspan dx="0.43" dy="3.24">C<tspan dx="1.08">D</tspan>4</tspan><tspan font-size="5.4" dx="-0.43" dy="-3.24">+</tspan></text>
<text transform="translate(11.5 333) rotate(-90)" text-anchor="middle" font-size="10.9" font-weight="bold" letter-spacing="0.45" fill="#000">MFI<tspan font-size="6"> </tspan>CD40L</text>
<text transform="translate(278 347) rotate(-90)" text-anchor="middle" font-size="9.8" font-weight="bold" letter-spacing="0.3" fill="#000">% C<tspan dx="0.98">D</tspan>40L<tspan font-size="4.9" dx="-0.88" dy="-2.94">+</tspan><tspan dx="0.39" dy="2.94">C<tspan dx="0.98">D</tspan>4</tspan><tspan font-size="4.9" dx="-0.39" dy="-2.94">+</tspan></text>
<text transform="translate(12 580.3) rotate(-90)" text-anchor="middle" font-size="9.8" font-weight="bold" letter-spacing="0.3" fill="#000">% C<tspan dx="0.98">D</tspan>40L<tspan font-size="4.9" dx="-0.88" dy="-2.94">+</tspan><tspan dx="0.39" dy="2.94">C<tspan dx="0.98">D</tspan>4</tspan><tspan font-size="4.9" dx="-0.39" dy="-2.94">+</tspan></text>
<text transform="translate(278.3 578.6) rotate(-90)" text-anchor="middle" font-size="10" font-weight="bold" letter-spacing="0.35" fill="#000">% C<tspan dx="1">D</tspan>40L<tspan font-size="5" dx="-0.9" dy="-3">+</tspan><tspan dx="0.4" dy="3">C<tspan dx="1">D</tspan>4</tspan><tspan font-size="5" dx="-0.4" dy="-3">+</tspan></text>
<text x="143.5" y="688.8" text-anchor="middle" font-size="10.5" letter-spacing="0.45" font-weight="bold" fill="#000">Hours</text>
<text x="411.7" y="689.9" text-anchor="middle" font-size="10.5" letter-spacing="0.45" font-weight="bold" fill="#000">Hours</text>
</svg>
</body></html>
